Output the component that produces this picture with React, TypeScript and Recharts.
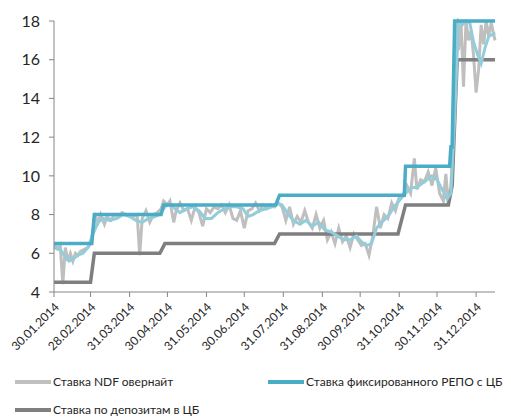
import React from 'react';
import { LineChart, Line, XAxis, YAxis } from 'recharts';

// days counted from 30.01.2014
const tickDays = [0, 29, 60, 90, 121, 151, 182, 213, 243, 274, 304, 335];
const tickLabels = ['30.01.2014', '28.02.2014', '31.03.2014', '30.04.2014', '31.05.2014', '30.06.2014',
    '31.07.2014', '31.08.2014', '30.09.2014', '31.10.2014', '30.11.2014', '31.12.2014'];
const yTicks = [4, 6, 8, 10, 12, 14, 16, 18];

const ndfDays = [0, 3, 5, 7, 9, 11, 13, 15, 17, 19, 21, 24, 27, 29, 33, 35, 37, 40, 42, 45, 48, 51, 54, 57, 60,
    63, 66, 68, 70, 73, 76, 79, 82, 85, 87, 90, 92, 95, 97, 100, 103, 106, 109, 112, 115, 118, 121, 124, 127,
    130, 133, 136, 139, 142, 145, 148, 151, 154, 157, 160, 163, 166, 169, 172, 175, 178, 181, 184, 187, 190,
    193, 196, 199, 202, 205, 208, 211, 214, 217, 220, 223, 226, 229, 232, 235, 238, 241, 244, 247, 250, 253,
    256, 259, 262, 265, 268, 271, 274, 277, 280, 283, 286, 288, 291, 294, 297, 300, 303, 306, 309, 311, 313,
    315, 317, 319, 321, 323, 325, 327, 329, 331, 333, 335, 337, 339, 341, 343, 345, 347, 350];
const ndfRates = [6.3, 6.2, 6.4, 4.4, 6.3, 5.6, 6.0, 5.6, 6.0, 5.9, 6.1, 6.2, 6.3, 6.5, 7.9, 7.6, 8.0, 7.5, 7.9,
    7.7, 8.0, 7.9, 8.1, 8.0, 8.0, 7.9, 8.0, 5.9, 7.8, 8.2, 7.6, 8.0, 8.1, 8.3, 8.7, 8.5, 8.7, 7.6, 8.2, 8.6,
    8.2, 8.3, 7.7, 8.4, 8.1, 7.4, 8.3, 8.1, 8.4, 8.3, 8.5, 8.1, 8.5, 7.8, 7.7, 8.2, 7.3, 8.2, 8.3, 8.6, 8.2,
    8.5, 8.3, 8.5, 8.4, 8.6, 8.4, 7.7, 8.4, 7.5, 7.9, 7.6, 8.2, 7.6, 7.3, 8.0, 7.3, 7.7, 6.7, 7.1, 6.5, 7.3,
    6.6, 6.9, 6.3, 7.0, 6.7, 6.4, 6.5, 5.9, 6.9, 8.4, 7.3, 8.0, 7.8, 8.6, 8.2, 8.9, 9.0, 9.5, 9.1, 10.9, 9.3,
    9.8, 9.7, 10.2, 9.5, 10.4, 9.1, 8.7, 10.1, 8.5, 9.5, 12.0, 18.0, 16.5, 18.0, 14.6, 18.0, 17.0, 17.5, 16.2,
    14.3, 15.5, 17.8, 16.8, 18.0, 17.2, 17.9, 17.0];

const avgDays = [0, 4, 8, 12, 15, 19, 23, 27, 31, 35, 39, 44, 50, 55, 60, 65, 70, 75, 80, 84, 88, 92, 96, 100,
    105, 110, 115, 120, 125, 130, 135, 140, 145, 150, 154, 158, 163, 168, 173, 177, 181, 186, 190, 195, 200,
    205, 210, 215, 220, 225, 230, 235, 240, 244, 248, 252, 256, 260, 265, 270, 275, 279, 284, 288, 292, 296,
    300, 304, 308, 312, 315, 318, 321, 324, 327, 330, 333, 336, 339, 342, 345, 348, 350];
const avgRates = [6.4, 6.3, 5.9, 5.6, 5.7, 5.9, 6.0, 6.3, 7.0, 7.6, 7.8, 7.7, 7.8, 8.0, 7.9, 7.7, 7.6, 7.8,
    7.9, 8.0, 8.4, 8.6, 8.3, 8.1, 8.3, 8.4, 8.2, 7.8, 7.8, 8.1, 8.3, 8.4, 8.4, 8.3, 7.9, 8.0, 8.2, 8.3, 8.4,
    8.6, 8.5, 8.0, 7.7, 7.5, 7.7, 7.4, 7.6, 7.2, 7.1, 6.9, 6.7, 6.7, 6.9, 6.6, 6.4, 6.5, 7.3, 7.6, 7.9, 8.4,
    8.8, 9.1, 9.4, 9.4, 9.6, 9.8, 10.0, 9.8, 9.3, 8.8, 9.1, 13.0, 18.0, 17.8, 18.0, 17.9, 16.9, 16.3, 15.8,
    16.6, 17.2, 17.3, 17.4];

const repoDays = [0, 30, 32, 85, 87, 176, 179, 278, 279, 314, 315, 316, 318, 350];
const repoRates = [6.5, 6.5, 8.0, 8.0, 8.5, 8.5, 9.0, 9.0, 10.5, 10.5, 11.5, 11.5, 18.0, 18.0];

const depoDays = [0, 29, 32, 84, 88, 175, 179, 273, 279, 313, 316, 320, 350];
const depoRates = [4.5, 4.5, 6.0, 6.0, 6.5, 6.5, 7.0, 7.0, 8.5, 8.5, 9.5, 16.0, 16.0];

const pts = (days: number[], vals: number[]) => days.map((d, i) => ({ d, v: vals[i] }));

const FONT = "Lato, 'Noto Sans', sans-serif";
const AXIS = '#868686';

const legendItems = [
    { label: 'Ставка NDF овернайт', color: '#BFBFBF', left: 15, top: 374 },
    { label: 'Ставка фиксированного РЕПО с ЦБ', color: '#4BACC6', left: 268, top: 374 },
    { label: 'Ставка по депозитам в ЦБ', color: '#7F7F7F', left: 15, top: 402 },
];

const DateTick = (props: any) => {
    const { x, y, payload } = props;
    const idx = tickDays.indexOf(payload.value);
    return (
        <g transform={`translate(${x + 3},${y + 6})`}>
            <text x={0} y={0} dy={4} textAnchor="end" transform="rotate(-45)"
                fill="#262626" fontSize={12} fontFamily={FONT}>
                {idx >= 0 ? tickLabels[idx] : ''}
            </text>
        </g>
    );
};

export default function App() {
    return (
        <div style={{ position: 'absolute', left: 0, top: 0, width: 511, height: 418, background: '#fff', overflow: 'hidden' }}>
            <LineChart width={511} height={370} margin={{ top: 21, right: 16, bottom: 0, left: 0 }}>
                <XAxis type="number" dataKey="d" domain={[0, 350]} ticks={tickDays} interval={0}
                    tick={<DateTick />} height={78} stroke={AXIS} tickSize={5} allowDuplicatedCategory={false} />
                <YAxis type="number" domain={[4, 18]} ticks={yTicks} width={54} stroke={AXIS} tickSize={5}
                    tickMargin={9} tick={{ fill: '#262626', fontSize: 16, fontFamily: FONT }} interval={0} />
                <Line data={pts(ndfDays, ndfRates)} dataKey="v" type="linear" stroke="#BFBFBF" strokeWidth={3}
                    dot={false} isAnimationActive={false} />
                <Line data={pts(depoDays, depoRates)} dataKey="v" type="linear" stroke="#7F7F7F" strokeWidth={3.5}
                    dot={false} isAnimationActive={false} />
                <Line data={pts(avgDays, avgRates)} dataKey="v" type="linear" stroke="#92CDDC" strokeWidth={3}
                    dot={false} isAnimationActive={false} legendType="none" />
                <Line data={pts(repoDays, repoRates)} dataKey="v" type="linear" stroke="#4BACC6" strokeWidth={3.5}
                    dot={false} isAnimationActive={false} />
            </LineChart>
            {legendItems.map((it) => (
                <div key={it.label} style={{ position: 'absolute', left: it.left, top: it.top, display: 'flex',
                    alignItems: 'center', fontFamily: FONT, fontSize: 12, color: '#262626', whiteSpace: 'nowrap' }}>
                    <span style={{ display: 'inline-block', width: 36, height: 4, background: it.color, marginRight: 2 }} />
                    {it.label}
                </div>
            ))}
        </div>
    );
}
